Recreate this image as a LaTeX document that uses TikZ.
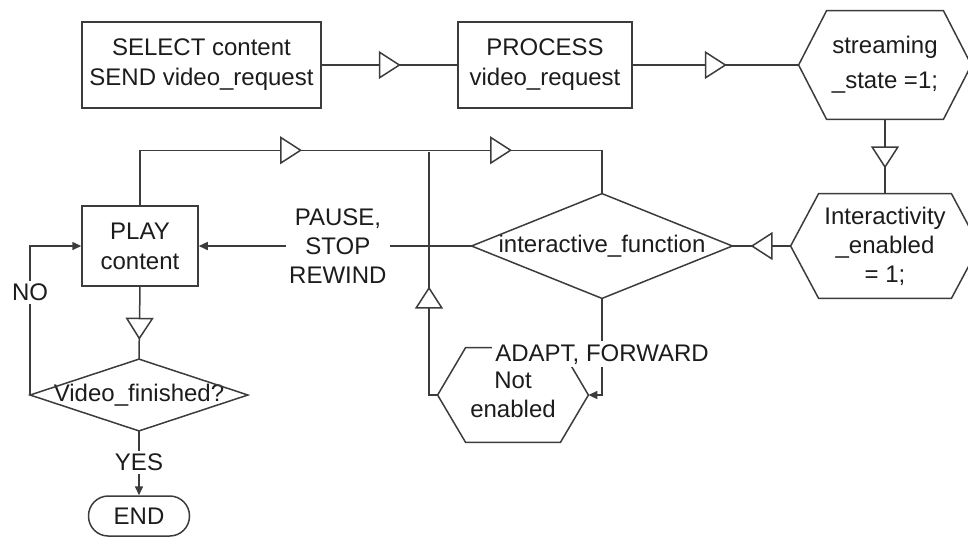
\documentclass[tikz,border=0pt]{standalone}
\usepackage{fontspec}
\setmainfont{Liberation Sans}
\usetikzlibrary{arrows.meta,decorations.markings}
\definecolor{lncol}{HTML}{3C3C3C}
\definecolor{txcol}{HTML}{1C1C1C}
\tikzset{
  conn/.style={draw=lncol, line width=0.75pt},
  filltip/.style={-{Triangle[length=4.5pt,width=4pt]}},
  midtri/.style={postaction={decorate,decoration={markings,mark=at position #1 with {\arrow[lncol]{Triangle[length=11pt,width=14pt,fill=white,line width=0.75pt]}}}}},
  box/.style={draw=lncol, line width=0.75pt, align=center, text=txcol, inner sep=0pt, font=\fontsize{12}{15}\selectfont},
  shp/.style={align=center, text=txcol, inner sep=0pt, font=\fontsize{12}{14.5}\selectfont},
  lbl/.style={fill=white, align=center, inner sep=1.5pt, text=txcol, font=\fontsize{12}{14.5}\selectfont},
}
\newcommand\hexout[2]{\draw[conn] (#1.west) -- ([xshift=#2]#1.north west) -- ([xshift=-#2]#1.north east) -- (#1.east) -- ([xshift=-#2]#1.south east) -- ([xshift=#2]#1.south west) -- cycle;}
\newcommand\diamout[1]{\draw[conn] (#1.west) -- (#1.north) -- (#1.east) -- (#1.south) -- cycle;}
\begin{document}
\begin{tikzpicture}[x=0.5pt,y=-0.5pt]
\useasboundingbox (0,0) rectangle (968,538);
% nodes
\node[box, minimum width=119.5pt, minimum height=43pt] (sel) at (201.5,65) {SELECT content\\SEND video\_request};
\node[box, minimum width=87pt, minimum height=43pt] (proc) at (545,65) {PROCESS\\video\_request};
\node[shp, minimum width=86pt, minimum height=54pt, font=\fontsize{12}{17.5}\selectfont] (strm) at (885,65) {streaming\\\_state =1;};
\node[shp, minimum width=94pt, minimum height=52pt] (itv) at (885,246) {Interactivity\\\_enabled\\= 1;};
\node[shp, minimum width=130pt, minimum height=52pt] (ifn) at (602,246) {interactive\_function};
\node[box, minimum width=58pt, minimum height=40pt] (play) at (140,246) {PLAY\\content};
\node[shp, minimum width=108.5pt, minimum height=35.5pt] (vf) at (139,395) {Video\_finished?};
\node[box, rounded corners=9.9pt, minimum width=50.5pt, minimum height=20pt] (endn) at (139,516) {END};
\node[shp, minimum width=75pt, minimum height=47pt] (noten) at (513,395) {Not\\enabled};
\coordinate (jn) at (429,152);
% outlines
\hexout{strm}{14pt}
\hexout{itv}{14pt}
\hexout{noten}{14pt}
\diamout{ifn}
\diamout{vf}
% connectors
\draw[conn, midtri=39.5pt] (sel.east) -- (proc.west);
\draw[conn, midtri=47pt] (proc.east) -- (strm.west);
\draw[conn, midtri=24.5pt] (strm.south) -- (itv.north);
\draw[conn, midtri=20pt] (itv.west) -- (ifn.east);
\draw[conn, filltip] (ifn.west) -- node[lbl, pos=0.49] {PAUSE,\\STOP\\REWIND} (play.east);
\draw[conn, midtri=108.5pt, midtri=213.5pt] (play.north) -- ++(0,-55) -| (ifn.north);
\draw[conn, midtri=58.5pt] (noten.west) -| (jn);
\draw[conn, filltip] (ifn.south) |- node[lbl, pos=0.289] {ADAPT, FORWARD} (noten.east);
\draw[conn, midtri=26.5pt] (play.south) -- (vf.north);
\draw[conn, filltip] (vf.west) |- node[lbl, pos=0.345] {NO} (play.west);
\draw[conn, filltip] (vf.south) -- node[lbl, pos=0.485] {YES} (endn.north);
\end{tikzpicture}
\end{document}
